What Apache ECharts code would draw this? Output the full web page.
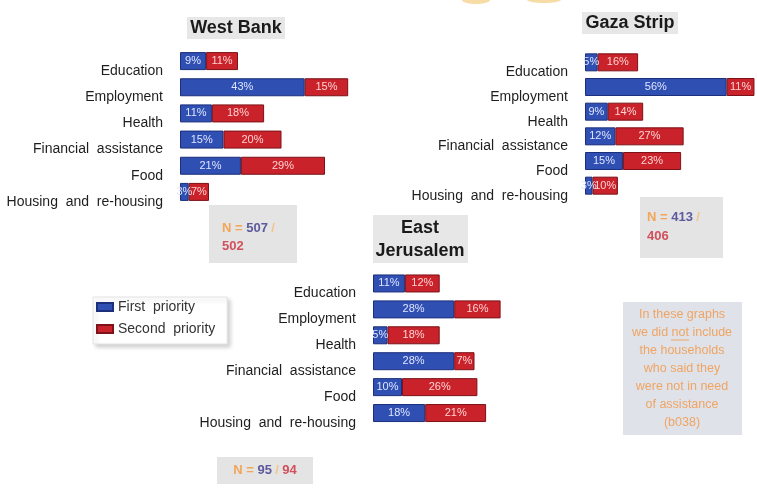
<!DOCTYPE html>
<html>
<head>
<meta charset="utf-8">
<script src="https://cdn.jsdelivr.net/npm/echarts@6/dist/echarts.min.js"></script>
<style>html,body{margin:0;padding:0;background:#fff;}#c{width:757px;height:495px;}</style>
</head>
<body>
<div id="c"></div>
<script>
var categories = ['Education', 'Employment', 'Health', 'Financial  assistance', 'Food', 'Housing  and  re-housing'];
var wbFirst  = [9, 43, 11, 15, 21, 3];
var wbSecond = [11, 15, 18, 20, 29, 7];
var gzFirst  = [5, 56, 9, 12, 15, 3];
var gzSecond = [16, 11, 14, 27, 23, 10];
var ejFirst  = [11, 28, 5, 28, 10, 18];
var ejSecond = [12, 16, 18, 7, 26, 21];
var seriesNames = ['First priority', 'Second priority'];

var BLUE = '#2f4fb3', RED = '#c9222b';
var FONT = 'Liberation Sans, Arial, sans-serif';

function yAx(i) {
  return {
    type: 'category', gridIndex: i, data: categories, inverse: true,
    axisLine: {show: false}, axisTick: {show: false},
    axisLabel: {fontSize: 14, color: '#1e1e1e', margin: 17, verticalAlign: 'top', padding: [3, 0, 0, 0], fontFamily: FONT}
  };
}
function xAx(i, max) {
  return {type: 'value', gridIndex: i, min: 0, max: max, show: false, splitLine: {show: false}};
}
function barSeries(name, data, idx, color, border, lblColor) {
  return {
    name: name, type: 'bar', stack: 's' + idx, xAxisIndex: idx, yAxisIndex: idx,
    data: data, barWidth: 18,
    itemStyle: {color: color, borderColor: border, borderWidth: 1},
    label: {show: true, position: 'inside', color: lblColor, fontSize: 11, fontFamily: FONT,
      formatter: function (p) { return p.value + '%'; }},
    emphasis: {disabled: true}, animation: false
  };
}

var chart = echarts.init(document.getElementById('c'));
chart.setOption({
  animation: false,
  textStyle: {fontFamily: FONT},
  grid: [
    {left: 180, top: 48, width: 290, height: 157},
    {left: 585, top: 50, width: 172, height: 148},
    {left: 373, top: 270.5, width: 290, height: 155.5}
  ],
  xAxis: [xAx(0, 100), xAx(1, 68), xAx(2, 100)],
  yAxis: [yAx(0), yAx(1), yAx(2)],
  legend: {
    data: seriesNames, orient: 'vertical', left: 93, top: 297,
    padding: [3, 12, 8, 3], itemWidth: 16, itemHeight: 8, itemGap: 8, icon: 'rect',
    textStyle: {fontSize: 14, color: '#333', fontFamily: FONT},
    formatter: function (n) { return n.replace(' ', '  '); },
    backgroundColor: '#fff', borderColor: '#e2e2e2', borderWidth: 1,
    shadowBlur: 4, shadowOffsetX: 3, shadowOffsetY: 3, shadowColor: 'rgba(0,0,0,0.18)',
    selectedMode: false
  },
  series: [
    barSeries(seriesNames[0], wbFirst, 0, BLUE, '#1c2f7a', '#dfe6ff'),
    barSeries(seriesNames[1], wbSecond, 0, RED, '#7d1218', '#ffd3d3'),
    barSeries(seriesNames[0], gzFirst, 1, BLUE, '#1c2f7a', '#dfe6ff'),
    barSeries(seriesNames[1], gzSecond, 1, RED, '#7d1218', '#ffd3d3'),
    barSeries(seriesNames[0], ejFirst, 2, BLUE, '#1c2f7a', '#dfe6ff'),
    barSeries(seriesNames[1], ejSecond, 2, RED, '#7d1218', '#ffd3d3')
  ],
  graphic: [
    {type: 'ellipse', shape: {cx: 476, cy: 0, rx: 14, ry: 4}, style: {fill: '#f7dca6'}, silent: true},
    {type: 'ellipse', shape: {cx: 544, cy: -1, rx: 18, ry: 4}, style: {fill: '#f7dca6'}, silent: true},
    // titles
    {type: 'rect', shape: {x: 187, y: 17, width: 98, height: 22}, style: {fill: '#e7e7e7'}, silent: true},
    {type: 'text', x: 236, y: 28, style: {text: 'West Bank', fontSize: 18, fontWeight: 'bold', fill: '#1a1a1a', align: 'center', verticalAlign: 'middle', fontFamily: FONT}, silent: true},
    {type: 'rect', shape: {x: 582, y: 12, width: 96, height: 22}, style: {fill: '#e7e7e7'}, silent: true},
    {type: 'text', x: 630, y: 23, style: {text: 'Gaza Strip', fontSize: 18, fontWeight: 'bold', fill: '#1a1a1a', align: 'center', verticalAlign: 'middle', fontFamily: FONT}, silent: true},
    {type: 'rect', shape: {x: 373, y: 215, width: 95, height: 48}, style: {fill: '#e7e7e7'}, silent: true},
    {type: 'text', x: 420, y: 240, style: {text: 'East\nJerusalem', fontSize: 18, lineHeight: 23, fontWeight: 'bold', fill: '#1a1a1a', align: 'center', verticalAlign: 'middle', fontFamily: FONT}, silent: true},
    // N boxes
    {type: 'rect', shape: {x: 209, y: 205, width: 88, height: 58}, style: {fill: '#e4e4e4'}, silent: true},
    {type: 'text', x: 222, y: 237, style: {
      text: '{o|N = }{b|507} {s|/}\n{r|502}', verticalAlign: 'middle', fontFamily: FONT,
      rich: {o: {fontSize: 13, fontWeight: 'bold', fill: '#f2a657', lineHeight: 18},
             b: {fontSize: 13, fontWeight: 'bold', fill: '#5c5a9c', lineHeight: 18},
             s: {fontSize: 13, fontWeight: 'bold', fill: '#f1c58c', lineHeight: 18},
             r: {fontSize: 13, fontWeight: 'bold', fill: '#d2505c', lineHeight: 18}}}, silent: true},
    {type: 'rect', shape: {x: 640, y: 197, width: 83, height: 61}, style: {fill: '#e4e4e4'}, silent: true},
    {type: 'text', x: 647, y: 227, style: {
      text: '{o|N = }{b|413} {s|/}\n{r|406}', verticalAlign: 'middle', fontFamily: FONT,
      rich: {o: {fontSize: 13, fontWeight: 'bold', fill: '#f2a657', lineHeight: 19},
             b: {fontSize: 13, fontWeight: 'bold', fill: '#5c5a9c', lineHeight: 19},
             s: {fontSize: 13, fontWeight: 'bold', fill: '#f1c58c', lineHeight: 19},
             r: {fontSize: 13, fontWeight: 'bold', fill: '#d2505c', lineHeight: 19}}}, silent: true},
    {type: 'rect', shape: {x: 217, y: 457, width: 96, height: 27}, style: {fill: '#e4e4e4'}, silent: true},
    {type: 'text', x: 265, y: 470, style: {
      text: '{o|N = }{b|95} {s|/} {r|94}', align: 'center', verticalAlign: 'middle', fontFamily: FONT,
      rich: {o: {fontSize: 13, fontWeight: 'bold', fill: '#f2a657'},
             b: {fontSize: 13, fontWeight: 'bold', fill: '#5c5a9c'},
             s: {fontSize: 13, fontWeight: 'bold', fill: '#f1c58c'},
             r: {fontSize: 13, fontWeight: 'bold', fill: '#d2505c'}}}, silent: true},
    // note
    {type: 'rect', shape: {x: 623, y: 302, width: 119, height: 133}, style: {fill: '#dfe3e9'}, silent: true},
    {type: 'text', x: 682, y: 369, style: {
      text: 'In these graphs\nwe did not include\nthe households\nwho said they\nwere not in need\nof assistance\n(b038)',
      fontSize: 12.5, lineHeight: 18, fill: '#f0a463', align: 'center', verticalAlign: 'middle', fontFamily: FONT}, silent: true},
    {type: 'line', shape: {x1: 671, y1: 340, x2: 689, y2: 340}, style: {stroke: '#f0a463', lineWidth: 1}, silent: true}
  ]
});
</script>
</body>
</html>
